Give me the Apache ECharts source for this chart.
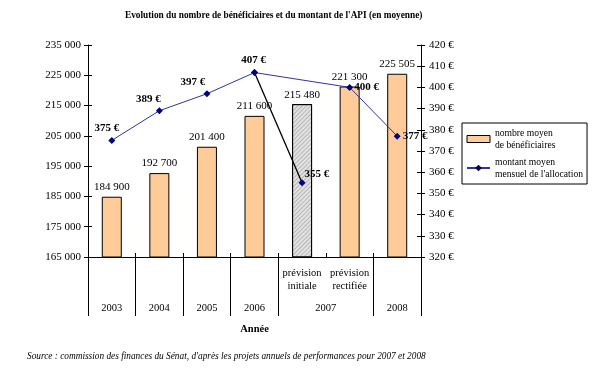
<!DOCTYPE html>
<html><head><meta charset="utf-8">
<script src="https://cdn.jsdelivr.net/npm/echarts@6/dist/echarts.min.js"></script>
<style>html,body{margin:0;padding:0;background:#fff}#c{width:606px;height:380px}</style>
</head><body><div id="c"></div>
<script>
var categories = ['2003', '2004', '2005', '2006', '2007 initiale', '2007 rectifiée', '2008'];
var subLabels = ['', '', '', '', 'prévision\ninitiale', 'prévision\nrectifiée', ''];
var yearSlots = ['', '2003', '', '2004', '', '2005', '', '2006', '', '', '2007', '', '', '2008', ''];
var beneficiaires = [184900, 192700, 201400, 211600, 215480, 221300, 225505];
var montant = [375, 389, 397, 407, null, 400, 377];
var montantInitial = [null, null, null, 407, 355, null, null];
var leftTicks = [165000, 235000, 10000];
var rightTicks = [320, 420, 10];

var FONT = 'Liberation Serif';
var barName = 'nombre moyen\nde bénéficiaires';
var lineName = "montant moyen\nmensuel de l'allocation";
function fmt(v){ return String(v).replace(/\B(?=(\d{3})+(?!\d))/g, ' '); }

var lineLabelStyle = [
  {position:'top', offset:[-5,2]},
  {position:'top', offset:[-11,2]},
  {position:'top', offset:[-14,2]},
  {position:'top', offset:[-1,2]},
  null,
  {position:'right', offset:[-4,0]},
  {position:'right', offset:[-3,0]}
];

var barData = beneficiaires.map(function(v, i){
  var d = {value: v};
  if (i === 4) {
    d.itemStyle = {color: '#e2e2e2', decal: {symbol:'rect', symbolSize:1, dashArrayX:[1,0], dashArrayY:[1,2], rotation:-Math.PI/4, color:'rgba(120,120,120,0.4)'}};
  }
  return d;
});
var lineData = montant.map(function(v, i){
  var d = {value: v};
  if (lineLabelStyle[i]) d.label = lineLabelStyle[i];
  return d;
});
var initData = montantInitial.map(function(v, i){
  var d = {value: v};
  if (i === 4) d.label = {show: true, position: 'right', offset: [-6, -9]};
  return d;
});

var chart = echarts.init(document.getElementById('c'), null, {renderer: 'canvas'});
chart.setOption({
  backgroundColor: '#fff',
  animation: false,
  textStyle: {fontFamily: FONT, color: '#000'},
  title: [
    {text: "Evolution du nombre de bénéficiaires et du montant de l'API (en moyenne)", left: 120, top: 6,
     textStyle: {fontFamily: FONT, fontSize: 9.3, fontWeight: 'bold', color: '#000'}},
    {text: "Source : commission des finances du Sénat, d'après les projets annuels de performances pour 2007 et 2008", left: 22, top: 347,
     textStyle: {fontFamily: FONT, fontSize: 9.3, fontStyle: 'italic', fontWeight: 'normal', color: '#000'}}
  ],
  legend: {
    orient: 'vertical', left: 462, top: 123,
    data: [{name: barName, icon: 'rect'}, {name: lineName}],
    itemWidth: 23, itemHeight: 7, itemGap: 5, itemStyle: {borderColor: '#000', borderWidth: 1},
    borderColor: '#000', borderWidth: 1, borderRadius: 0, padding: [4, 4, 4, 4],
    textStyle: {fontFamily: FONT, fontSize: 9.6, lineHeight: 12, color: '#000'}
  },
  grid: {left: 88, right: 185, top: 45, bottom: 123, containLabel: false},
  xAxis: [
    {type: 'category', data: categories, position: 'bottom',
     axisLine: {show: true, lineStyle: {color: '#000', width: 1}},
     axisTick: {show: true, inside: true, length: 4, lineStyle: {color: '#000'}},
     axisLabel: {interval: 0, margin: 10, fontFamily: FONT, fontSize: 10.5, lineHeight: 13, color: '#000',
       formatter: function(v, i){ return subLabels[i]; }},
     splitLine: {show: false}},
    {type: 'category', data: categories, position: 'bottom',
     axisLine: {show: false},
     axisTick: {show: true, length: 36, interval: function(i){ return i === 5; }, lineStyle: {color: '#000'}},
     axisLabel: {show: false}, splitLine: {show: false}},
    {type: 'category', data: yearSlots, position: 'bottom', boundaryGap: false,
     axisLine: {show: false},
     axisTick: {show: true, length: 59, interval: function(i){ return i % 2 === 0 && i !== 10; }, lineStyle: {color: '#000'}},
     axisLabel: {interval: 0, margin: 46, fontFamily: FONT, fontSize: 10.5, color: '#000'},
     name: 'Année', nameLocation: 'middle', nameGap: 67,
     nameTextStyle: {fontFamily: FONT, fontSize: 10.5, fontWeight: 'bold', color: '#000'},
     splitLine: {show: false}}
  ],
  yAxis: [
    {type: 'value', position: 'left', min: leftTicks[0], max: leftTicks[1], interval: leftTicks[2],
     axisLine: {show: true, lineStyle: {color: '#000'}},
     axisTick: {show: true, length: 4, lineStyle: {color: '#000'}},
     axisLabel: {margin: 7, fontFamily: FONT, fontSize: 11, color: '#000', formatter: fmt},
     splitLine: {show: false}},
    {type: 'value', position: 'left', min: leftTicks[0], max: leftTicks[1], interval: leftTicks[2],
     axisLine: {show: false}, axisTick: {show: true, inside: true, length: 4, lineStyle: {color: '#000'}},
     axisLabel: {show: false}, splitLine: {show: false}},
    {type: 'value', position: 'right', min: rightTicks[0], max: rightTicks[1], interval: rightTicks[2],
     axisLine: {show: true, lineStyle: {color: '#000'}},
     axisTick: {show: true, length: 4, lineStyle: {color: '#000'}},
     axisLabel: {margin: 8, fontFamily: FONT, fontSize: 11, color: '#000', formatter: '{value} €'},
     splitLine: {show: false}},
    {type: 'value', position: 'right', min: rightTicks[0], max: rightTicks[1], interval: rightTicks[2],
     axisLine: {show: false}, axisTick: {show: true, inside: true, length: 4, lineStyle: {color: '#000'}},
     axisLabel: {show: false}, splitLine: {show: false}}
  ],
  series: [
    {name: barName, type: 'bar', xAxisIndex: 0, yAxisIndex: 0, data: barData, barWidth: 20,
     itemStyle: {color: '#FFCC99', borderColor: '#000', borderWidth: 1},
     label: {show: true, position: 'top', distance: 4, fontFamily: FONT, fontSize: 11, color: '#000',
       formatter: function(p){ return fmt(p.value); }}, z: 2},
    {name: 'initial', type: 'line', xAxisIndex: 0, yAxisIndex: 2, data: initData, connectNulls: false,
     lineStyle: {color: '#000', width: 1.3}, itemStyle: {color: '#000080'},
     symbol: 'diamond', symbolSize: 7, showSymbol: true,
     label: {show: false, fontFamily: FONT, fontSize: 11, fontWeight: 'bold', color: '#000',
       formatter: function(p){ return p.value + ' €'; }}, z: 3},
    {name: lineName, type: 'line', xAxisIndex: 0, yAxisIndex: 2, data: lineData, connectNulls: true,
     lineStyle: {color: '#333399', width: 1}, itemStyle: {color: '#000080'},
     symbol: 'diamond', symbolSize: 7, showSymbol: true,
     label: {show: true, fontFamily: FONT, fontSize: 11, fontWeight: 'bold', color: '#000',
       formatter: function(p){ return p.value + ' €'; }}, z: 4}
  ]
});
</script></body></html>
